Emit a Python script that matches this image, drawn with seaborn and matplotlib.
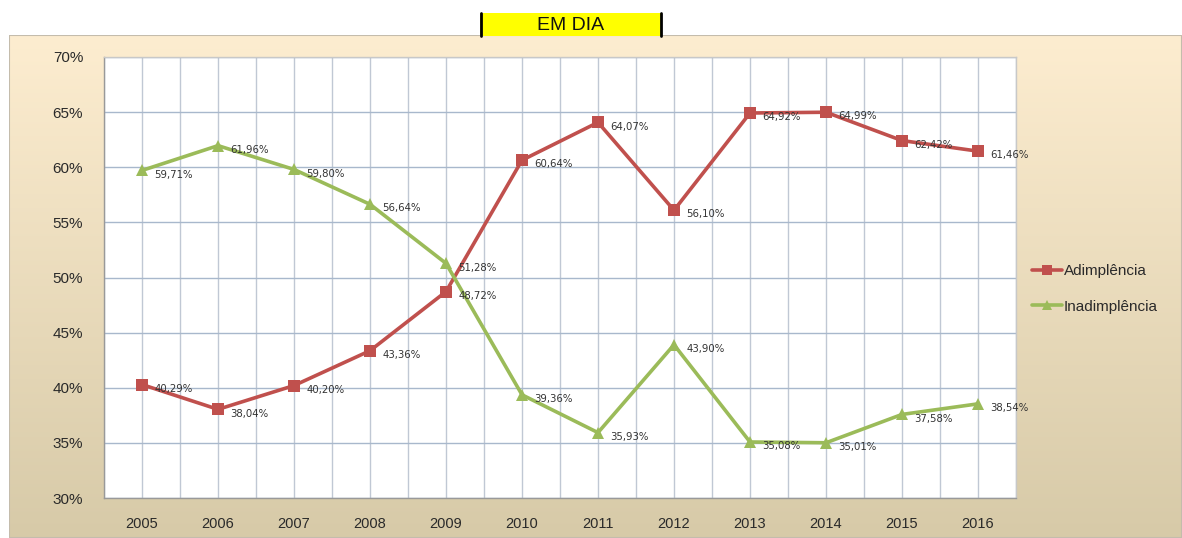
import numpy as np
import pandas as pd
import matplotlib
matplotlib.use("Agg")
import matplotlib.pyplot as plt
import seaborn as sns
from matplotlib.patches import Rectangle
from matplotlib.lines import Line2D

years = ["2005", "2006", "2007", "2008", "2009", "2010", "2011", "2012", "2013", "2014", "2015", "2016"]
adimplencia = [40.29, 38.04, 40.20, 43.36, 48.72, 60.64, 64.07, 56.10, 64.92, 64.99, 62.42, 61.46]
inadimplencia = [59.71, 61.96, 59.80, 56.64, 51.28, 39.36, 35.93, 43.90, 35.08, 35.01, 37.58, 38.54]
series_names = ["Adimplência", "Inadimplência"]
y_ticks = [30, 35, 40, 45, 50, 55, 60, 65, 70]
title = "EM DIA"

sns.set_theme(style="white")
plt.rcParams['font.family'] = ['DejaVu Sans']

W, H = 1182, 538
fig = plt.figure(figsize=(W / 100, H / 100), dpi=100)
fig.patch.set_facecolor("white")

# gradient background for the chart area
bg = fig.add_axes([9 / W, 0, 1 - 9 / W, 1 - 35 / H])
top = np.array([253, 237, 208]) / 255
bot = np.array([215, 202, 168]) / 255
t = np.linspace(0, 1, 256)[:, None]
grad = top * (1 - t) + bot * t
bg.imshow(grad[:, None, :], aspect="auto", extent=[0, 1, 0, 1])
bg.set_axis_off()
bg.add_patch(Rectangle((0, 0), 1, 1, transform=bg.transAxes, fill=False,
                       edgecolor="#c4bcac", lw=1.5))

# title box
fig.patches.append(Rectangle((480 / W, 1 - 36 / H), 182 / W, 23 / H,
                             transform=fig.transFigure, facecolor="#ffff00",
                             edgecolor="none", zorder=5))
fig.lines.append(Line2D([481 / W, 481 / W], [1 - 36 / H, 1 - 13 / H],
                        transform=fig.transFigure, color="black", lw=2, zorder=6))
fig.lines.append(Line2D([661 / W, 661 / W], [1 - 36 / H, 1 - 13 / H],
                        transform=fig.transFigure, color="black", lw=2, zorder=6))
fig.text(571 / W, 1 - 26 / H, title, ha="center", va="center", fontsize=14,
         family="Liberation Sans", color="#111111", zorder=7)

ax = fig.add_axes([104 / W, 1 - 498 / H, (1016 - 104) / W, (498 - 57) / H])
ax.set_facecolor("white")

df = pd.DataFrame({
    "pos": list(range(len(years))) * 2,
    "val": adimplencia + inadimplencia,
    "serie": [series_names[0]] * len(years) + [series_names[1]] * len(years),
})
red = "#c0504d"
green = "#9bbb59"
sns.lineplot(data=df, x="pos", y="val", hue="serie", style="serie",
             palette={series_names[0]: red, series_names[1]: green},
             markers={series_names[0]: "s", series_names[1]: "^"},
             dashes=False, lw=2.6, markersize=9, markeredgewidth=0,
             ax=ax, legend=False, zorder=3)

# data labels
for i in range(len(years)):
    for vals in (adimplencia, inadimplencia):
        v = vals[i]
        ax.annotate(f"{v:.2f}%".replace(".", ","), (i, v), xytext=(9, -3),
                    textcoords="offset points", fontsize=7.3, family="DejaVu Sans",
                    color="#333333", ha="left", va="center", zorder=4)

ax.set_xlim(-0.5, len(years) - 0.5)
ax.set_ylim(30, 70)
ax.set_yticks(y_ticks)
ax.set_yticklabels([f"{v}%" for v in y_ticks], fontsize=11, color="#2a2a2a",
                   family="Liberation Sans")
ax.set_xticks(range(len(years)))
ax.set_xticklabels(years, fontsize=10.5, color="#2a2a2a", family="Liberation Sans")
ax.set_xticks(np.arange(-0.5, len(years), 1), minor=True)
ax.tick_params(axis="x", which="major", length=0, pad=14)
ax.tick_params(axis="x", which="minor", length=4, color="#999999", direction="out")
ax.tick_params(axis="y", length=5, color="#999999", direction="out", pad=10)
ax.grid(True, axis="y", color="#a8b8cc", lw=1)
ax.grid(True, axis="x", which="both", color="#c0c8d4", lw=1)
ax.set_axisbelow(True)
ax.set_xlabel("")
ax.set_ylabel("")
for s in ["top", "right"]:
    ax.spines[s].set_color("#c8c8c8")
    ax.spines[s].set_linewidth(1)
for s in ["left", "bottom"]:
    ax.spines[s].set_color("#999999")
    ax.spines[s].set_linewidth(1)

# legend
handles = [Line2D([], [], color=red, lw=2.6, marker="s", markersize=7, markeredgewidth=0),
           Line2D([], [], color=green, lw=2.6, marker="^", markersize=7, markeredgewidth=0)]
fig.legend(handles, series_names, loc="center left",
           bbox_to_anchor=(1018 / W, 1 - 289 / H), frameon=False,
           handlelength=2.0, handletextpad=0.1, labelspacing=1.4,
           prop={"family": "Liberation Sans", "size": 11}, labelcolor="#2a2a2a")

fig.savefig("out.png", dpi=100)
